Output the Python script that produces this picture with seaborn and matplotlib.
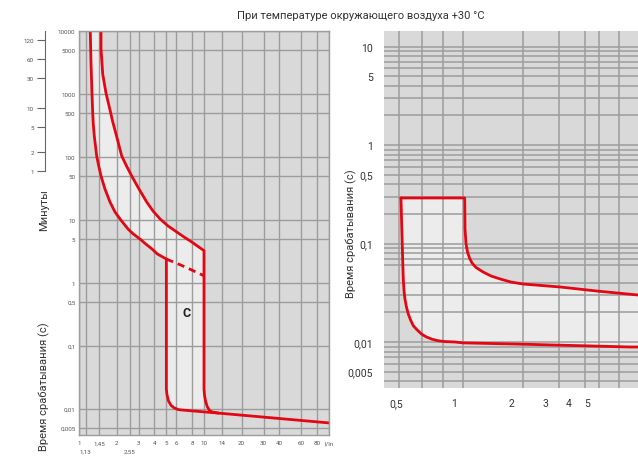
import matplotlib
matplotlib.use("Agg")
import matplotlib.pyplot as plt
import seaborn as sns
from matplotlib.ticker import NullLocator, NullFormatter

# ---- left chart: curve C, x = I/In, y = seconds ----
c_min_x = [1.231, 1.231, 1.247, 1.270, 1.287, 1.301, 1.326, 1.385, 1.438, 1.500, 1.614,
           1.770, 1.941, 2.128, 2.466, 2.719, 3.076, 3.417, 3.837, 4.23, 5.0,
           5.0, 5.06, 5.20, 5.45, 5.77, 6.20, 6.59, 13.0, 100]
c_min_t = [12000, 10000, 3221, 1037, 517, 334, 215, 104, 72, 49.9, 31.0,
           19.3, 13.4, 10.4, 7.19, 5.99, 4.99, 4.16, 3.47, 2.89, 2.40,
           0.0208, 0.0167, 0.0134, 0.0114, 0.0104, 0.0098, 0.00964, 0.0086, 0.0060]

c_max_x = [1.500, 1.500, 1.500, 1.548, 1.644, 1.787, 1.854, 1.977, 2.196, 2.399, 2.640,
           3.020, 3.480, 3.908, 4.446, 5.152, 6.047, 6.918, 7.97, 8.95, 10.0,
           10.0, 10.09, 10.28, 10.63, 11.07, 11.59, 13.0]
c_max_t = [12000, 10000, 5176, 2075, 1037, 517, 373, 232, 104, 72, 49.9,
           31.0, 19.3, 13.9, 10.4, 8.04, 6.45, 5.37, 4.48, 3.80, 3.26,
           0.0208, 0.0167, 0.0134, 0.0108, 0.00947, 0.00896, 0.0086]

c_mid_x = [5.0, 5.6, 6.5, 7.5, 8.7, 10.0]
c_mid_t = [2.40, 2.18, 1.93, 1.70, 1.48, 1.30]

left_xticks = [1, 1.45, 2, 3, 4, 5, 6, 8, 10, 14, 20, 30, 40, 60, 80, 100]
left_xlabels = ["1", "1,45", "2", "3", "4", "5", "6", "8", "10", "14", "20", "30", "40", "60", "80", "I/In"]
left_xextra = [1.13, 2.55]
left_xextra_labels = ["1,13", "2,55"]
left_yticks = [0.005, 0.01, 0.1, 0.5, 1, 5, 10, 50, 100, 500, 1000, 5000, 10000]
left_ylabels = ["0,005", "0,01", "0,1", "0,5", "1", "5", "10", "50", "100", "500", "1000", "5000", "10000"]
minute_ticks = [1, 2, 5, 10, 30, 60, 120]

# ---- right chart ----
r_low_x = [0.527, 0.538, 0.542, 0.547, 0.553, 0.563, 0.576, 0.592, 0.612, 0.640, 0.677,
           0.713, 0.764, 0.824, 0.897, 1.012, 1.115, 2.30, 8.37, 9.22]
r_low_t = [0.29, 0.0696, 0.0436, 0.0329, 0.0273, 0.0227, 0.0192, 0.0167, 0.0146, 0.0133, 0.0120,
           0.0113, 0.0107, 0.0103, 0.0101, 0.0100, 0.0098, 0.0095, 0.0089, 0.0089]
r_up_x = [0.527, 1.138, 1.142, 1.156, 1.177, 1.206, 1.243, 1.304, 1.42, 1.563, 1.743,
          1.99, 2.30, 3.59, 5.62, 9.22]
r_up_t = [0.29, 0.29, 0.140, 0.0989, 0.082, 0.0713, 0.0634, 0.0571, 0.0514, 0.0468, 0.0437,
          0.0406, 0.0388, 0.0362, 0.0329, 0.030]

right_xticks = [0.5, 1, 2, 3, 4, 5]
right_xlabels = ["0,5", "1", "2", "3", "4", "5"]
right_xgrid = [0.517, 0.677, 0.879, 1.119, 2.29, 3.57, 4.85, 5.78, 7.29]
right_yticks = [0.005, 0.01, 0.1, 0.5, 1, 5, 10]
right_ylabels = ["0,005", "0,01", "0,1", "0,5", "1", "5", "10"]

red = "#e30613"
bg = "#d9d9d9"
band = "#ececec"
gridc = "#9c9c9c"

sns.set_theme(style="white")
plt.rcParams["font.family"] = ["Roboto", "DejaVu Sans"]

fig = plt.figure(figsize=(6.38, 4.60), dpi=100)
ax1 = fig.add_axes([0.1238, 0.0528, 0.3919, 0.8783])
ax2 = fig.add_axes([0.6019, 0.1543, 0.3981, 0.7761])

# left panel
ax1.set_xscale("log")
ax1.set_yscale("log")
ax1.set_facecolor(bg)
ax1.set_axisbelow(True)
ax1.fill(c_min_x + c_max_x[::-1], c_min_t + c_max_t[::-1], color=band, zorder=0.2, lw=0)
sns.lineplot(x=c_min_x, y=c_min_t, sort=False, estimator=None, ax=ax1, color=red, linewidth=2)
sns.lineplot(x=c_max_x, y=c_max_t, sort=False, estimator=None, ax=ax1, color=red, linewidth=2)
sns.lineplot(x=c_mid_x, y=c_mid_t, sort=False, estimator=None, ax=ax1, color=red,
             linewidth=2, linestyle=(0, (2.6, 1.8)))
ax1.text(7.2, 0.334, "C", fontsize=9, fontweight="bold", ha="center", va="center", color="#222")
ax1.set_xlim(1, 100)
ax1.set_ylim(0.0039, 10110)
ax1.set_xticks(left_xticks, labels=left_xlabels)
ax1.set_xticks(left_xextra, labels=left_xextra_labels, minor=True)
ax1.set_yticks(left_yticks, labels=left_ylabels)
ax1.yaxis.set_minor_locator(NullLocator())
ax1.grid(which="both", color=gridc, linewidth=1.0)
ax1.tick_params(which="major", length=0, labelsize=4.5, labelcolor="#555", pad=2.5)
ax1.tick_params(axis="x", which="major", pad=4)
ax1.tick_params(axis="x", which="minor", length=8.5, width=0.9, color="#777",
                labelsize=4.5, labelcolor="#555", pad=1.5)
for s in ax1.spines.values():
    s.set_color(gridc)
    s.set_linewidth(1.0)
ax1.set_xlabel("")
ax1.set_ylabel("")

sec = ax1.secondary_yaxis(-0.136, functions=(lambda s: s / 60, lambda m: m * 60))
sec.set_yticks(minute_ticks, labels=[str(m) for m in minute_ticks])
sec.yaxis.set_minor_locator(NullLocator())
sec.spines["left"].set_bounds(1, 168)
sec.spines["left"].set_color("#666")
sec.spines["left"].set_linewidth(0.8)
sec.tick_params(length=6, width=0.8, color="#666", labelsize=4.5, labelcolor="#555", pad=2)

# right panel
ax2.set_xscale("log")
ax2.set_yscale("log")
ax2.set_facecolor(bg)
ax2.set_axisbelow(True)
ax2.fill(r_low_x + r_up_x[::-1], r_low_t + r_up_t[::-1], color=band, zorder=0.2, lw=0)
sns.lineplot(x=r_low_x, y=r_low_t, sort=False, estimator=None, ax=ax2, color=red, linewidth=2)
sns.lineplot(x=r_up_x, y=r_up_t, sort=False, estimator=None, ax=ax2, color=red, linewidth=2)
ax2.set_xlim(0.4295, 9.22)
ax2.set_ylim(0.00341, 14.37)
ax2.set_xticks(right_xticks, labels=right_xlabels)
ax2.set_xticks(right_xgrid, minor=True)
ax2.xaxis.set_minor_formatter(NullFormatter())
ax2.set_yticks(right_yticks, labels=right_ylabels)
ax2.set_yticks([m * d for d in [0.001, 0.01, 0.1, 1] for m in range(2, 10)
                if 0.0034 < m * d < 14 and m != 5], minor=True)
ax2.yaxis.set_minor_formatter(NullFormatter())
ax2.xaxis.grid(True, which="minor", color=gridc, linewidth=1.1)
ax2.yaxis.grid(True, which="both", color=gridc, linewidth=1.1)
ax2.tick_params(which="both", length=0, labelsize=7.5, labelcolor="#333")
ax2.tick_params(axis="y", pad=8)
ax2.tick_params(axis="x", pad=7)
for s in ax2.spines.values():
    s.set_visible(False)
ax2.set_xlabel("")
ax2.set_ylabel("")

fig.text(361 / 638, 1 - 16 / 460, "При температуре окружающего воздуха +30 °C",
         ha="center", va="center", fontsize=8, color="#333")
fig.text(44 / 638, 1 - 210 / 460, "Минуты", rotation=90, ha="center", va="center",
         fontsize=8, color="#333")
fig.text(44 / 638, 1 - 387 / 460, "Время срабатывания (с)", rotation=90, ha="center",
         va="center", fontsize=8, color="#333")
fig.text(351 / 638, 1 - 234 / 460, "Время срабатывания (с)", rotation=90, ha="center",
         va="center", fontsize=8, color="#333")

fig.savefig("out.png", dpi=100)
